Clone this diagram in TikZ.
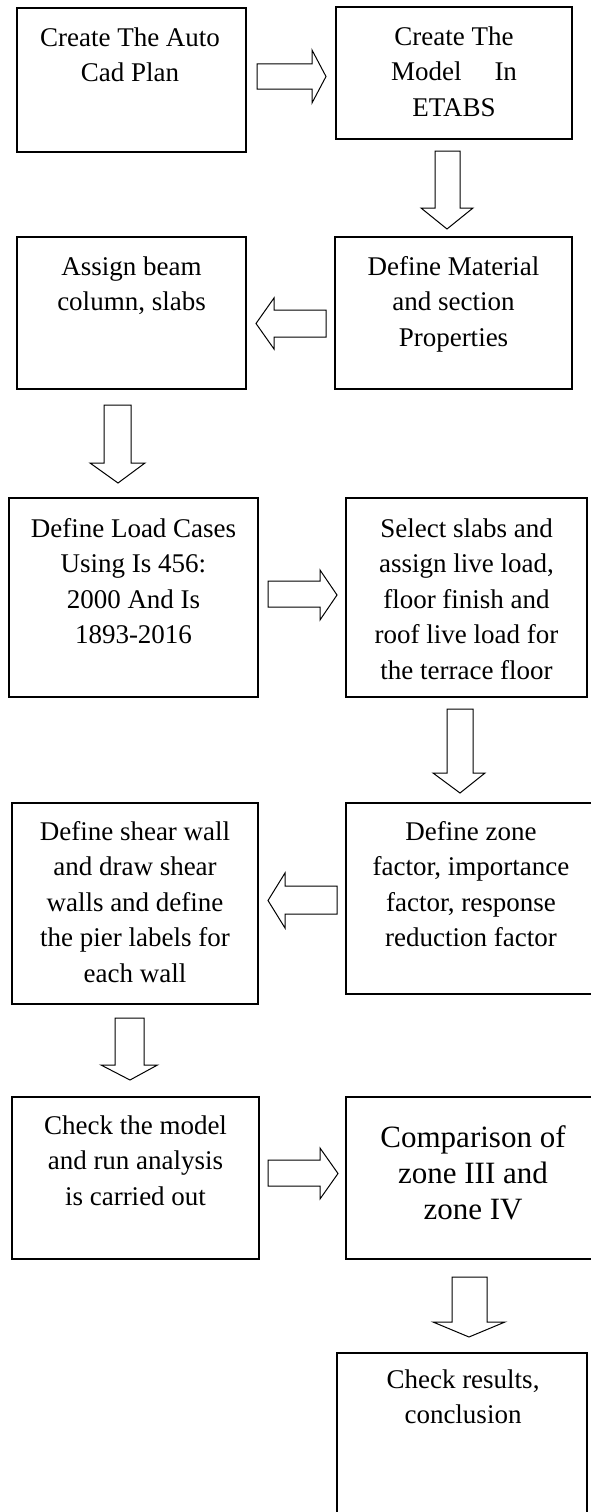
\documentclass[tikz,border=0pt]{standalone}
\usepackage{fontspec}
\setmainfont{Liberation Serif}
\begin{document}
\begin{tikzpicture}[x=1pt,y=-1pt,
  box/.style={draw, line width=1.3pt, inner sep=0pt, outer sep=0pt},
  lbl/.style={anchor=north, align=center, inner sep=0pt, font=\fontsize{27}{35.5}\selectfont},
  lblbig/.style={anchor=north, align=center, inner sep=0pt, font=\fontsize{31}{36}\selectfont},
  barrow/.style={draw, line width=1pt, line join=miter}]
\useasboundingbox (0,0) rectangle (591,1512);
\clip (0,0) rectangle (591,1512);

% boxes
\node[box, minimum width=229pt, minimum height=144pt] (b1) at (131.5,80) {};
\node[box, minimum width=236pt, minimum height=132pt] (b2) at (454,73) {};
\node[box, minimum width=229pt, minimum height=152pt] (b3) at (131.5,313) {};
\node[box, minimum width=237pt, minimum height=152pt] (b4) at (453.5,313) {};
\node[box, minimum width=249pt, minimum height=199pt] (b5) at (133.5,597.5) {};
\node[box, minimum width=241pt, minimum height=199pt] (b6) at (466.5,597.5) {};
\node[box, minimum width=246pt, minimum height=201pt] (b7) at (135,903.5) {};
\node[box, minimum width=252pt, minimum height=191pt] (b8) at (472,898.5) {};
\node[box, minimum width=247pt, minimum height=162pt] (b9) at (135.5,1178) {};
\node[box, minimum width=252pt, minimum height=162pt] (b10) at (472,1178) {};
\node[box, minimum width=250pt, minimum height=177pt] (b11) at (462,1441.5) {};

% texts
\node[lbl] (t1) at (130,26) {\rule{0pt}{20pt}Create The Auto\\Cad Plan};
\node[lbl] (t2) at (454,25) {\rule{0pt}{20pt}Create The\\Model\hspace{33pt}In\\ETABS};
\node[lbl] (t3) at (131.5,255) {\rule{0pt}{20pt}Assign beam\\column, slabs};
\node[lbl] (t4) at (453.5,255) {\rule{0pt}{20pt}Define Material\\and section\\Properties};
\node[lbl] (t5) at (133.5,517) {\rule{0pt}{20pt}Define Load Cases\\Using Is 456:\\2000 And Is\\1893-2016};
\node[lbl] (t6) at (466.5,517) {\rule{0pt}{20pt}Select slabs and\\assign live load,\\floor finish and\\roof live load for\\the terrace floor};
\node[lbl] (t7) at (135,820) {\rule{0pt}{20pt}Define shear wall\\and draw shear\\walls and define\\the pier labels for\\each wall};
\node[lbl] (t8) at (471,820) {\rule{0pt}{20pt}Define zone\\factor, importance\\factor, response\\reduction factor};
\node[lbl] (t9) at (135.5,1114) {\rule{0pt}{20pt}Check the model\\and run analysis\\is carried out};
\node[lblbig] (t10) at (473,1123) {\rule{0pt}{24pt}Comparison of\\zone III and\\zone IV};
\node[lbl] (t11) at (463,1368) {\rule{0pt}{20pt}Check results,\\conclusion};

% block arrows
\draw[barrow] (257,64) -- (312,64) -- (312,50) -- (326,76.5) -- (312,103) -- (312,89) -- (257,89) -- cycle;
\draw[barrow] (435,151) -- (460,151) -- (460,208) -- (473,208) -- (447,229) -- (421,208) -- (435,208) -- cycle;
\draw[barrow] (326,310) -- (274,310) -- (274,298) -- (256,323.5) -- (274,349) -- (274,337) -- (326,337) -- cycle;
\draw[barrow] (104,405) -- (131,405) -- (131,463) -- (145,463) -- (118,483) -- (90,463) -- (104,463) -- cycle;
\draw[barrow] (268,581) -- (320,581) -- (320,570) -- (337,595) -- (320,620) -- (320,607) -- (268,607) -- cycle;
\draw[barrow] (447,709) -- (473,709) -- (473,773) -- (485,773) -- (460,793) -- (433,773) -- (447,773) -- cycle;
\draw[barrow] (337,886) -- (285,886) -- (285,873) -- (268,900.5) -- (285,928) -- (285,914) -- (337,914) -- cycle;
\draw[barrow] (115,1018) -- (144,1018) -- (144,1065) -- (157.5,1065) -- (130,1080) -- (101,1065) -- (115,1065) -- cycle;
\draw[barrow] (268,1160) -- (320,1160) -- (320,1148) -- (338,1173.5) -- (320,1199) -- (320,1186) -- (268,1186) -- cycle;
\draw[barrow] (452,1277) -- (487,1277) -- (487,1322) -- (505,1322) -- (469,1337) -- (433,1322) -- (452,1322) -- cycle;
\end{tikzpicture}
\end{document}
